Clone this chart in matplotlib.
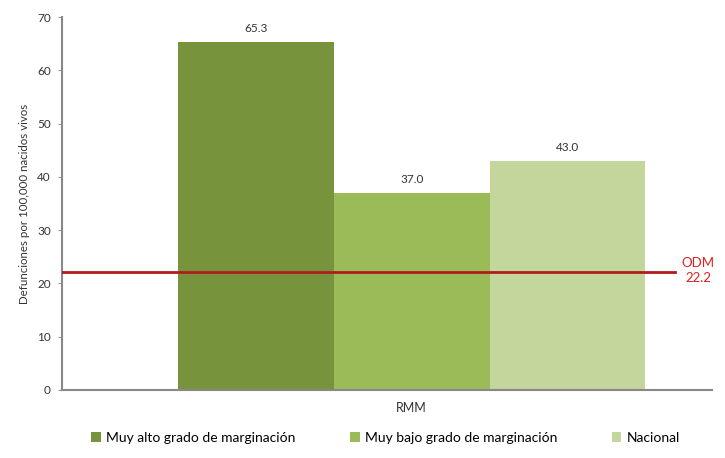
import matplotlib.pyplot as plt

# datos
series = ["Muy alto grado de marginación", "Muy bajo grado de marginación", "Nacional"]
valores = [65.3, 37.0, 43.0]
colores = ["#77933C", "#9BBB59", "#C3D69B"]
categoria = "RMM"
odm = 22.2
yticks = [0, 10, 20, 30, 40, 50, 60, 70]

plt.rcParams["font.family"] = ["Lato", "DejaVu Sans"]

fig = plt.figure(figsize=(7.25, 4.58), dpi=100)
ax = fig.add_axes([0.0855, 0.1485, 0.897, 0.814])

barras = []
for i, (nombre, valor) in enumerate(zip(series, valores)):
    b = ax.bar(i, valor, width=1.0, color=colores[i], label=nombre)
    barras.append(b)
    ax.text(i, valor + 1.5, f"{valor:.1f}", ha="center", va="bottom", fontsize=8.5, color="#333333")

# linea de la meta ODM
ax.plot([-1.25, 2.69], [odm, odm], color="#B01C1C", linewidth=2, zorder=3)
ax.text(2.84, odm + 0.3, f"ODM\n{odm:.1f}", color="#E02020", fontsize=9.5, ha="center", va="center",
        linespacing=1.3)

ax.set_xlim(-1.245, 2.93)
ax.set_ylim(0, 70)
ax.set_yticks(yticks)
ax.set_yticklabels([str(t) for t in yticks], fontsize=8.5, color="#333333")
ax.set_xticks([1])
ax.set_xticklabels([categoria], fontsize=9, color="#333333")
ax.tick_params(axis="x", length=0, pad=9)
ax.tick_params(axis="y", length=3, color="#999999", pad=5)
ax.set_ylabel("Defunciones por 100,000 nacidos vivos", fontsize=8.3, color="#333333", labelpad=5)

for lado in ["top", "right"]:
    ax.spines[lado].set_visible(False)
ax.spines["left"].set_color("#888888")
ax.spines["bottom"].set_color("#888888")
ax.spines["left"].set_linewidth(1.5)
ax.spines["bottom"].set_linewidth(1.5)

fig.legend(handles=barras, labels=series, loc="center", bbox_to_anchor=(0.532, 0.044), ncol=3,
           frameon=False, fontsize=10, handlelength=0.7, handleheight=0.7, columnspacing=3.9,
           handletextpad=0.4)

fig.savefig("out.png", dpi=100)
